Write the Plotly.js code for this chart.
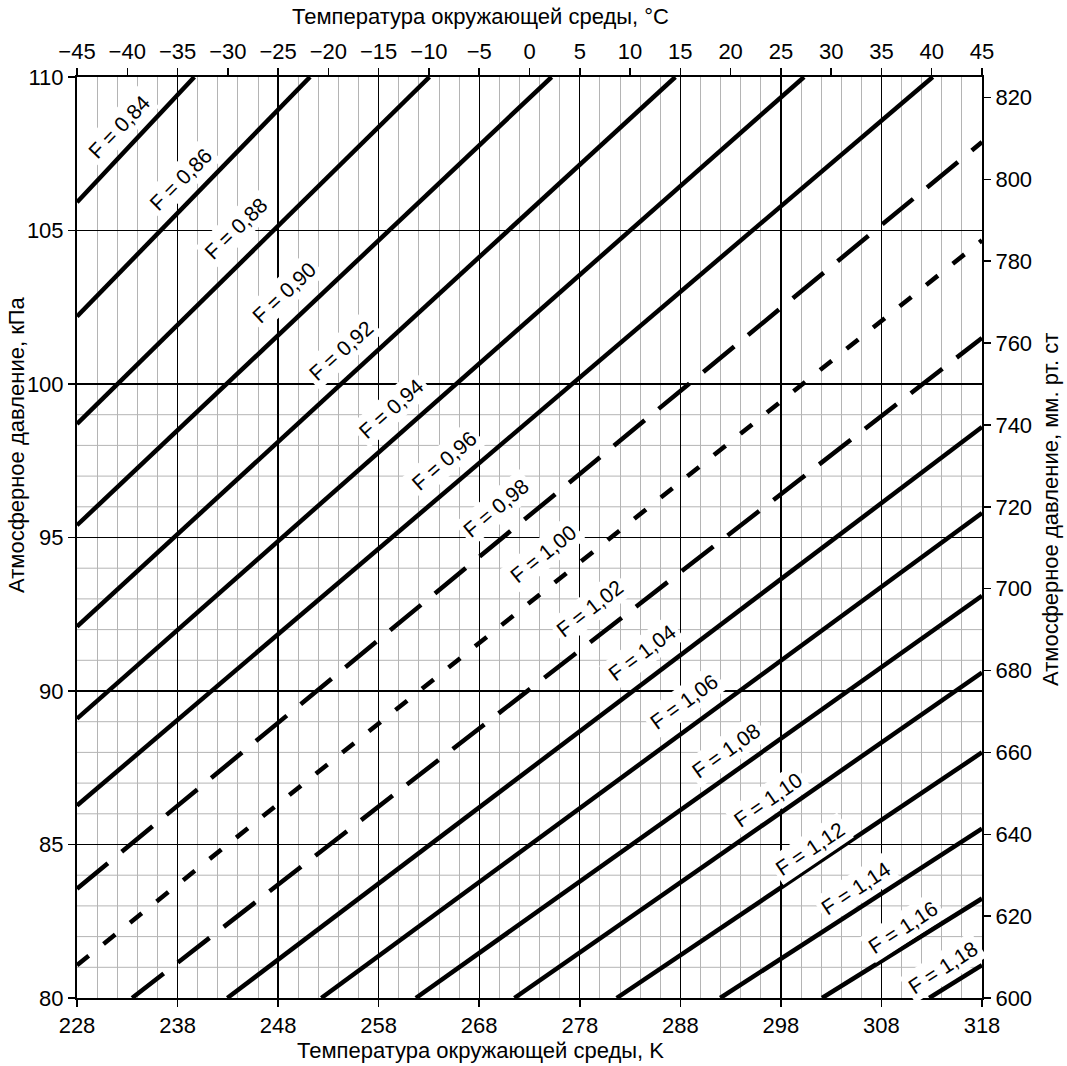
<!DOCTYPE html>
<html>
<head>
<meta charset="utf-8">
<script src="https://cdn.plot.ly/plotly-3.0.1.min.js"></script>
<style>html,body{margin:0;padding:0;background:#fff;}#chart{width:1067px;height:1066px;}</style>
</head>
<body>
<div id="chart"></div>
<script>
// ---- data ----
const labels = ['F = 0,84','F = 0,86','F = 0,88','F = 0,90','F = 0,92','F = 0,94','F = 0,96','F = 0,98','F = 1,00',
                'F = 1,02','F = 1,04','F = 1,06','F = 1,08','F = 1,10','F = 1,12','F = 1,14','F = 1,16','F = 1,18'];
// start / end of each line (temperature K, pressure kPa)
const startT = [228, 228, 228, 228, 228, 228, 228, 228, 228, 233.48, 242.95, 252.3, 261.7, 271.5, 281.67, 291.97, 302.1, 312.75];
const startP = [105.92, 102.2, 98.7, 95.4, 92.1, 89.1, 86.27, 83.56, 81.07, 80, 80, 80, 80, 80, 80, 80, 80, 80];
const endT   = [239.67, 251.17, 263.05, 275.2, 287.5, 300.3, 313.1, 318, 318, 318, 318, 318, 318, 318, 318, 318, 318, 318];
const endP   = [110, 110, 110, 110, 110, 110, 110, 107.88, 104.68, 101.5, 98.6, 95.8, 93.1, 90.6, 88.0, 85.52, 83.24, 81.07];

const tempK = [228, 238, 248, 258, 268, 278, 288, 298, 308, 318];
const tempC = [-45, -40, -35, -30, -25, -20, -15, -10, -5, 0, 5, 10, 15, 20, 25, 30, 35, 40, 45];
const presKPa = [80, 85, 90, 95, 100, 105, 110];
const presMM = [600, 620, 640, 660, 680, 700, 720, 740, 760, 780, 800, 820];

const titleTop = 'Температура окружающей среды, °C';
const titleBottom = 'Температура окружающей среды, K';
const titleLeft = 'Атмосферное давление, кПа';
const titleRight = 'Атмосферное давление, мм. рт. ст';

// ---- styling (not data) ----
const dashStyle = {'F = 0,98': '40px,18px', 'F = 1,00': '15px,19px', 'F = 1,02': '40px,18px'};
const labelT = [232.22, 238.30, 243.78, 248.57, 254.25, 259.24, 264.52, 269.71, 274.39, 278.98, 284.19, 288.37, 292.56, 296.75, 300.94, 305.42, 310.11, 314.10];
const labelP = [108.39, 106.66, 105.07, 102.99, 101.10, 99.21, 97.52, 95.98, 94.49, 92.69, 91.26, 89.66, 88.07, 86.47, 84.88, 83.57, 82.31, 81.0];
const labelAngle = [46, 45, 44, 43, 42, 41.5, 41, 40, 39, 38, 37, 36, 35.5, 35, 34, 33.5, 33, 33];

const KPA_TO_MM = 7.5;
const FONT = 'Liberation Sans, Arial, sans-serif';
const TICK_SIZE = 22, TITLE_SIZE = 22, LABEL_SIZE = 21;

const traces = labels.map((lab, i) => ({
  type: 'scatter', mode: 'lines',
  x: [startT[i], endT[i]], y: [startP[i], endP[i]],
  xaxis: 'x', yaxis: 'y',
  line: {color: '#000', width: 4.5, dash: dashStyle[lab] || 'solid'},
  hoverinfo: 'skip', showlegend: false
}));
// helper (invisible) trace so that the secondary axes are drawn
traces.push({type: 'scatter', mode: 'none', x: [tempC[0], tempC[tempC.length - 1]],
  y: [presMM[0], presMM[presMM.length - 1]], xaxis: 'x2', yaxis: 'y2', hoverinfo: 'skip', showlegend: false});

// minor horizontal grid (visible only in the lower part of the reference)
const shapes = [];
for (let p = 81; p <= 99; p++) {
  if (p % 5 === 0) continue;
  shapes.push({type: 'line', xref: 'x', yref: 'y', x0: tempK[0], x1: tempK[tempK.length - 1], y0: p, y1: p,
    line: {color: '#b4b4b4', width: 1}, layer: 'below'});
}

const annotations = labels.map((lab, i) => ({
  x: labelT[i], y: labelP[i], xref: 'x', yref: 'y', text: lab, showarrow: false,
  textangle: -labelAngle[i], bgcolor: '#fff', borderpad: 3,
  font: {family: FONT, size: LABEL_SIZE, color: '#000'}
}));
const tfont = {family: FONT, size: TITLE_SIZE, color: '#000'};
annotations.push(
  {text: titleTop, xref: 'paper', yref: 'paper', x: (480 - 77) / 905, y: 1 + (77 - 17) / 921, showarrow: false, font: tfont, xanchor: 'center', yanchor: 'middle'},
  {text: titleBottom, xref: 'paper', yref: 'paper', x: (480 - 77) / 905, y: -(1050 - 998) / 921, showarrow: false, font: tfont, xanchor: 'center', yanchor: 'middle'},
  {text: titleLeft, xref: 'paper', yref: 'paper', x: -(77 - 17) / 905, y: (998 - 445) / 921, showarrow: false, font: tfont, textangle: -90, xanchor: 'center', yanchor: 'middle'},
  {text: titleRight, xref: 'paper', yref: 'paper', x: 1 + (1050 - 982) / 905, y: (998 - 510) / 921, showarrow: false, font: tfont, textangle: -90, xanchor: 'center', yanchor: 'middle'}
);

const axisCommon = {
  showline: true, linewidth: 2, linecolor: '#000', ticks: 'outside', ticklen: 7, tickwidth: 1.5, tickcolor: '#000',
  tickfont: {family: FONT, size: TICK_SIZE, color: '#000'}, zeroline: false, automargin: false
};

const layout = {
  width: 1067, height: 1066,
  margin: {l: 77, r: 85, t: 77, b: 68, pad: 0},
  paper_bgcolor: '#fff', plot_bgcolor: '#fff',
  showlegend: false,
  xaxis: Object.assign({}, axisCommon, {
    range: [tempK[0], tempK[tempK.length - 1]], tickmode: 'array', tickvals: tempK,
    showgrid: true, gridcolor: '#000', gridwidth: 1.3,
    minor: {tick0: 228, dtick: 2, showgrid: true, gridcolor: '#b4b4b4', gridwidth: 1, ticks: ''}
  }),
  yaxis: Object.assign({}, axisCommon, {
    range: [presKPa[0], presKPa[presKPa.length - 1]], tickmode: 'array', tickvals: presKPa,
    showgrid: true, gridcolor: '#000', gridwidth: 1.3
  }),
  xaxis2: Object.assign({}, axisCommon, {
    overlaying: 'x', side: 'top', anchor: 'y',
    range: [tempC[0], tempC[tempC.length - 1]], tickmode: 'array', tickvals: tempC, showgrid: false
  }),
  yaxis2: Object.assign({}, axisCommon, {
    overlaying: 'y', side: 'right', anchor: 'x',
    range: [presKPa[0] * KPA_TO_MM, presKPa[presKPa.length - 1] * KPA_TO_MM], tickmode: 'array', tickvals: presMM, showgrid: false
  }),
  shapes: shapes,
  annotations: annotations
};

Plotly.newPlot('chart', traces, layout, {staticPlot: true, displayModeBar: false});
</script>
</body>
</html>
